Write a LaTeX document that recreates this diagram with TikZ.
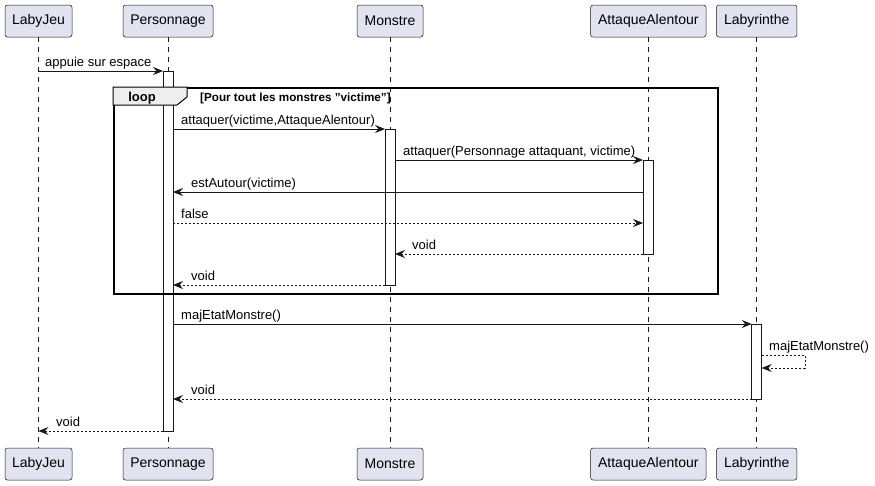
\documentclass[tikz,border=0pt]{standalone}
\usepackage{fontspec}
\setmainfont{Liberation Sans}
\usetikzlibrary{arrows.meta}
\definecolor{partfill}{HTML}{E2E2F0}
\definecolor{partline}{HTML}{181818}
\definecolor{hdrfill}{HTML}{EEEEEE}
\tikzset{
  part/.style={draw=partline, fill=partfill, rounded corners=2.5pt, line width=0.5pt,
    minimum height=32pt, inner sep=0pt, font=\fontsize{14}{16}\selectfont},
  life/.style={draw=partline, line width=0.5pt, dash pattern=on 5pt off 5pt},
  actbar/.style={draw=partline, fill=white, line width=0.8pt},
  msg/.style={draw=partline, line width=0.8pt, -{Stealth[length=10pt,width=8pt,inset=3.5pt]}},
  ret/.style={msg, dash pattern=on 2pt off 2pt},
  lbl/.style={anchor=base west, inner sep=0pt, font=\fontsize{13}{15}\selectfont},
}
\begin{document}
\begin{tikzpicture}[x=1pt,y=-1pt]
\useasboundingbox (0,0) rectangle (875,485);
% participants
\node[part, minimum width=67pt]   (lt) at (38.5,21) {LabyJeu};
\node[part, minimum width=90pt]   (pt) at (168,21) {Personnage};
\node[part, minimum width=66pt]   (mt) at (390,21) {Monstre};
\node[part, minimum width=115.5pt] (at) at (648.3,21) {AttaqueAlentour};
\node[part, minimum width=80.5pt] (yt) at (756.7,21) {Labyrinthe};
\node[part, minimum width=67pt]   (lb) at (38.5,464) {LabyJeu};
\node[part, minimum width=90pt]   (pb) at (168,464) {Personnage};
\node[part, minimum width=66pt]   (mb) at (390,464) {Monstre};
\node[part, minimum width=115.5pt] (ab) at (648.3,464) {AttaqueAlentour};
\node[part, minimum width=80.5pt] (yb) at (756.7,464) {Labyrinthe};
% lifelines
\draw[life] (lt.south) -- (lb.north);
\draw[life] (pt.south) -- (pb.north);
\draw[life] (mt.south) -- (mb.north);
\draw[life] (at.south) -- (ab.north);
\draw[life] (yt.south) -- (yb.north);
% activation bars
\draw[actbar] (163,71) rectangle (173,431);
\draw[actbar] (385,129) rectangle (395,285);
\draw[actbar] (643,160) rectangle (653,254);
\draw[actbar] (751.7,324) rectangle (761.7,399);
% loop frame
\node[draw=black, line width=1.6pt, minimum width=604pt, minimum height=206pt, inner sep=0pt, anchor=north west] (loopf) at (113,87) {};
\draw[black, line width=1pt, fill=hdrfill] (loopf.north west) -- (187,87) -- (187,97) -- (177,105) -- (113,105) -- cycle;
\node[anchor=base, inner sep=0pt, font=\fontsize{13}{15}\selectfont\bfseries] (looplbl) at (142,101) {loop};
\node[anchor=base west, inner sep=0pt, font=\fontsize{11.7}{13}\selectfont\bfseries] (loopcond) at (200,101) {[Pour tout les monstres "victime"]};
% message end points
\coordinate (a1) at (38.5,71);   \coordinate (b1) at (163,71);
\coordinate (a2) at (173,129);   \coordinate (b2) at (385,129);
\coordinate (a3) at (395,160);   \coordinate (b3) at (643,160);
\coordinate (a4) at (643,192);   \coordinate (b4) at (173,192);
\coordinate (a5) at (173,223);   \coordinate (b5) at (643,223);
\coordinate (a6) at (643,254);   \coordinate (b6) at (395,254);
\coordinate (a7) at (385,285);   \coordinate (b7) at (173,285);
\coordinate (a8) at (173,324);   \coordinate (b8) at (751.7,324);
\coordinate (a9) at (761.7,355); \coordinate (c9) at (805,355); \coordinate (d9) at (805,368); \coordinate (b9) at (761.7,368);
\coordinate (a10) at (751.7,399); \coordinate (b10) at (173,399);
\coordinate (a11) at (163,431);   \coordinate (b11) at (38.5,431);
% messages
\draw[msg] (a1) -- (b1);
\node[lbl] (t1) at (45,66) {appuie sur espace};
\draw[msg] (a2) -- (b2);
\node[lbl] (t2) at (181,124) {attaquer(victime,AttaqueAlentour)};
\draw[msg] (a3) -- (b3);
\node[lbl] (t3) at (403,155) {attaquer(Personnage attaquant, victime)};
\draw[msg] (a4) -- (b4);
\node[lbl] (t4) at (191,187) {estAutour(victime)};
\draw[ret] (a5) -- (b5);
\node[lbl] (t5) at (181,218) {false};
\draw[ret] (a6) -- (b6);
\node[lbl] (t6) at (412,249) {void};
\draw[ret] (a7) -- (b7);
\node[lbl] (t7) at (191,280) {void};
\draw[msg] (a8) -- (b8);
\node[lbl] (t8) at (181,319) {majEtatMonstre()};
\draw[ret] (a9) -- (c9) -- (d9) -- (b9);
\node[lbl] (t9) at (769,350) {majEtatMonstre()};
\draw[ret] (a10) -- (b10);
\node[lbl] (t10) at (191,394) {void};
\draw[ret] (a11) -- (b11);
\node[lbl] (t11) at (56,426) {void};
\end{tikzpicture}
\end{document}
